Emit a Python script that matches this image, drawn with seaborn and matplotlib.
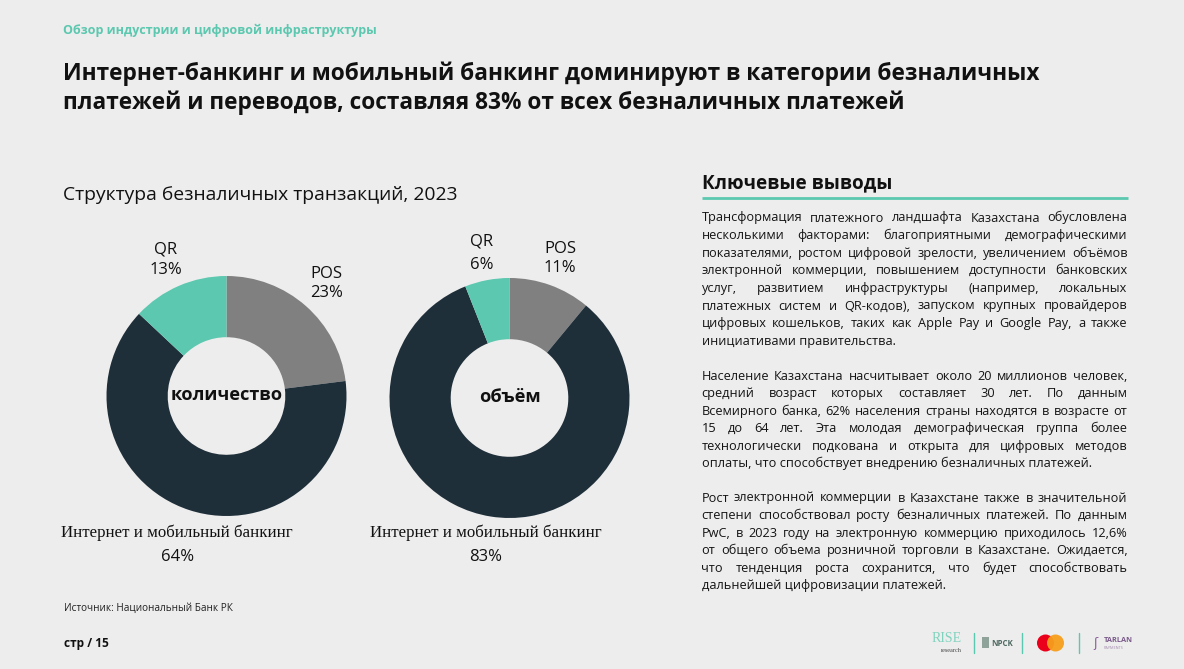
import numpy as np
import pandas as pd
import matplotlib
matplotlib.use("Agg")
import matplotlib.pyplot as plt
from matplotlib.patches import Circle
import seaborn as sns

# ---------------- data ----------------
categories = ["POS", "Интернет и мобильный банкинг", "QR"]
count_share = [23, 64, 13]
volume_share = [11, 83, 6]
panel_names = ["количество", "объём"]

header = "Обзор индустрии и цифровой инфраструктуры"
title_lines = ["Интернет-банкинг и мобильный банкинг доминируют в категории безналичных",
               "платежей и переводов, составляя 83% от всех безналичных платежей"]
chart_title = "Структура безналичных транзакций, 2023"
source = "Источник: Национальный Банк РК"
page = "стр / 15"
insights_title = "Ключевые выводы"
paragraphs = [
    ["Трансформация платежного ландшафта Казахстана обусловлена",
     "несколькими факторами: благоприятными демографическими",
     "показателями, ростом цифровой зрелости, увеличением объёмов",
     "электронной коммерции, повышением доступности банковских",
     "услуг, развитием инфраструктуры (например, локальных",
     "платежных систем и QR-кодов), запуском крупных провайдеров",
     "цифровых кошельков, таких как Apple Pay и Google Pay, а также",
     "инициативами правительства."],
    ["Население Казахстана насчитывает около 20 миллионов человек,",
     "средний возраст которых составляет 30 лет. По данным",
     "Всемирного банка, 62% населения страны находятся в возрасте от",
     "15 до 64 лет. Эта молодая демографическая группа более",
     "технологически подкована и открыта для цифровых методов",
     "оплаты, что способствует внедрению безналичных платежей."],
    ["Рост электронной коммерции в Казахстане также в значительной",
     "степени способствовал росту безналичных платежей. По данным",
     "PwC, в 2023 году на электронную коммерцию приходилось 12,6%",
     "от общего объема розничной торговли в Казахстане. Ожидается,",
     "что тенденция роста сохранится, что будет способствовать",
     "дальнейшей цифровизации платежей."],
]

# ---------------- style ----------------
W, H = 1184, 669
BG = "#EDEDED"
TEAL = "#5BC8AF"
DARK = "#1F2F3A"
GRAY = "#808080"
sns.set_theme(style="white", rc={"figure.facecolor": BG, "axes.facecolor": BG,
                                 "savefig.facecolor": BG})
plt.rcParams["font.family"] = ["Open Sans", "DejaVu Sans"]
palette = sns.color_palette([GRAY, DARK, TEAL])

fig = plt.figure(figsize=(W / 100, H / 100), dpi=100)
bg = fig.add_axes([0, 0, 1, 1], zorder=0)
bg.set_xlim(0, W)
bg.set_ylim(H, 0)
bg.axis("off")
renderer = fig.canvas.get_renderer()


def width_of(t):
    return t.get_window_extent(renderer).width


def fit(t, target):
    for _ in range(2):
        t.set_fontsize(t.get_fontsize() * target / width_of(t))
    return t


# ---------------- header / titles ----------------
fit(bg.text(63, 30, header, color=TEAL, fontweight="bold", fontsize=10,
            ha="left", va="center"), 313)
t1 = fit(bg.text(63, 74, title_lines[0], color="#111111", fontweight="bold", fontsize=16,
                 ha="left", va="center"), 974)
bg.text(63, 103, title_lines[1], color="#111111", fontweight="bold",
        fontsize=t1.get_fontsize(), ha="left", va="center")
fit(bg.text(63, 195, chart_title, color="#111111", fontsize=13, ha="left", va="center"), 397)

# ---------------- donuts ----------------
R = 120
centers = [(226.5, 396), (509.5, 398)]
series = [count_share, volume_share]
# label positions in the donut's data units: category -> (x, y_name, y_value)
label_pos = [
    {"QR": (-0.504, 1.225, 1.05), "POS": (0.833, 1.017, 0.858),
     "Интернет и мобильный банкинг": (-0.41, -1.142, -1.342)},
    {"QR": (-0.229, 1.30, 1.108), "POS": (0.42, 1.242, 1.083),
     "Интернет и мобильный банкинг": (-0.195, -1.125, -1.325)},
]

for (cx, cy), vals, name, lp in zip(centers, series, panel_names, label_pos):
    ax = fig.add_axes([(cx - R) / W, 1 - (cy + R) / H, 2 * R / W, 2 * R / H], zorder=2)
    ax.pie(vals, colors=palette, startangle=90, counterclock=False, radius=1,
           wedgeprops=dict(width=0.51, linewidth=0))
    ax.set_xlim(-1, 1)
    ax.set_ylim(-1, 1)
    ax.set_aspect("equal")
    ax.axis("off")
    ax.patch.set_alpha(0)
    ct = ax.text(0, 0.01, name, ha="center", va="center", fontweight="bold",
                 fontsize=13, color="#111111")
    if name == panel_names[0]:
        fit(ct, 112)
        center_size = ct.get_fontsize()
    else:
        ct.set_fontsize(center_size)
    for cat, v in zip(categories, vals):
        x, yn, yv = lp[cat]
        if cat == categories[1]:
            st = ax.text(x, yn, cat, ha="center", va="center", color="#111111",
                         family=["Liberation Serif", "DejaVu Serif"], fontsize=13,
                         clip_on=False)
            fit(st, 232)
        else:
            ax.text(x, yn, cat, ha="center", va="center", color="#111111",
                    fontsize=12, clip_on=False)
        ax.text(x, yv, f"{v}%", ha="center", va="center", color="#111111",
                fontsize=12, clip_on=False)

# ---------------- key insights ----------------
X0, X1 = 701.5, 1127.5
fit(bg.text(X0, 183, insights_title, color="#111111", fontweight="bold", fontsize=13,
            ha="left", va="center"), 190)
bg.plot([X0, X1], [198, 198], color=TEAL, lw=2, solid_capstyle="butt")

probe = bg.text(0, 0, paragraphs[1][2], fontsize=9.5)
fit(probe, 424)
body_size = probe.get_fontsize()
probe.remove()

BODY = "#141414"
para_top = [217, 375, 497]
step = 17.6
for top, lines in zip(para_top, paragraphs):
    for i, line in enumerate(lines):
        yb = top + i * step + 4.5
        last = i == len(lines) - 1
        if last:
            bg.text(X0, yb, line, fontsize=body_size, color=BODY,
                    ha="left", va="baseline")
            continue
        words = line.split(" ")
        objs = [bg.text(0, yb, w, fontsize=body_size, color=BODY,
                        ha="left", va="baseline") for w in words]
        ws = [width_of(o) * 100 / fig.dpi for o in objs]
        gap = (X1 - X0 - sum(ws)) / max(len(words) - 1, 1)
        x = X0
        for o, w in zip(objs, ws):
            o.set_x(x)
            x += w + gap

# ---------------- footer ----------------
fit(bg.text(64, 608, source, fontsize=7, color="#222222", ha="left", va="center"), 170)
fit(bg.text(64, 643, page, fontsize=9, fontweight="bold", color="#111111",
            ha="left", va="center"), 45)

# logos (decorative)
fit(bg.text(932, 638, "RISE", family=["Liberation Serif"], color="#7FD3BE",
            fontsize=12, ha="left", va="center"), 30)
bg.text(962, 651, "research", family=["Liberation Serif"], color="#444444",
        fontsize=4.5, ha="right", va="center")
for xd in (974, 1022, 1079):
    bg.plot([xd, xd], [633, 653], color=TEAL, lw=1)
bg.add_patch(plt.Rectangle((982, 637), 7, 11, color="#8FA39A", lw=0))
fit(bg.text(991, 643, "NPCK", fontweight="bold", color="#4E6A62", fontsize=7,
            ha="left", va="center"), 22)
bg.add_patch(Circle((1045.5, 643), 8.5, color="#EB001B", lw=0))
bg.add_patch(Circle((1055.5, 643), 8.5, color="#F79E1B", lw=0, alpha=0.95))
bg.text(1095, 643, "ʃ", color="#8A5E9A", fontsize=9, ha="center", va="center")
fit(bg.text(1104, 640, "TARLAN", fontweight="bold", color="#7A5A8A", fontsize=6,
            ha="left", va="center"), 29)
bg.text(1104, 648, "PAYMENTS", color="#A58CB0", fontsize=2.8, ha="left", va="center")

fig.savefig("out.png", dpi=100, facecolor=BG)
